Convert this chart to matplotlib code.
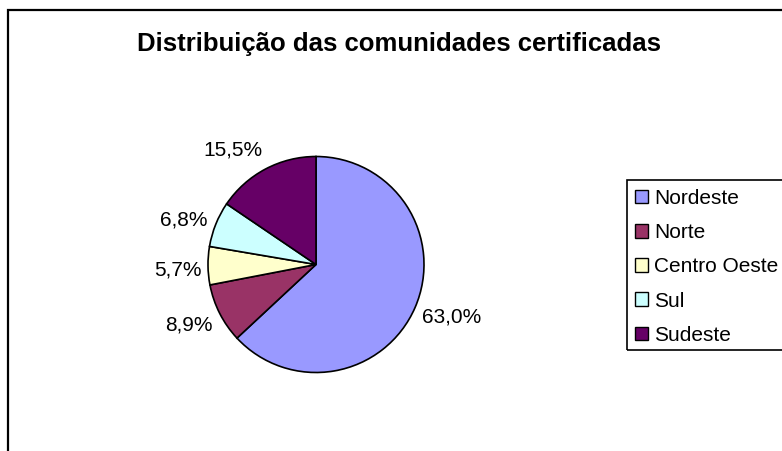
import matplotlib
matplotlib.use("Agg")
import matplotlib.pyplot as plt
from matplotlib.patches import Rectangle

regioes = ["Nordeste", "Norte", "Centro Oeste", "Sul", "Sudeste"]
percentuais = [63.0, 8.9, 5.7, 6.8, 15.5]
cores = ["#9999FF", "#993366", "#FFFFCC", "#CCFFFF", "#660066"]

# label offsets, in pie radii, tuned by eye
label_pos = [(1.26, -0.49), (-1.18, -0.56), (-1.28, -0.05), (-1.22, 0.41), (-0.77, 1.06)]

plt.rcParams["font.family"] = ["Liberation Sans", "DejaVu Sans"]

W, H = 782, 451
fig = plt.figure(figsize=(W / 100, H / 100), dpi=100)

# outer chart border (runs off right and bottom)
fig.patches.append(Rectangle((8 / W, -0.1), 1.2, 1 - 10 / H + 0.1, transform=fig.transFigure,
                             fill=False, edgecolor="black", linewidth=1.6))

cx, cy, r, half = 316, 264.5, 108, 150
ax = fig.add_axes([(cx - half) / W, (H - cy - half) / H, 2 * half / W, 2 * half / H])
lim = half / r

wedges, _ = ax.pie(percentuais, colors=cores, startangle=90, counterclock=False, radius=1,
                   wedgeprops=dict(edgecolor="black", linewidth=1.2))
ax.set_xlim(-lim, lim)
ax.set_ylim(-lim, lim)
ax.axis("off")

for v, (x, y) in zip(percentuais, label_pos):
    ax.text(x, y, f"{v:.1f}%".replace(".", ","), ha="center", va="center", fontsize=15)

fig.text(399 / W, 1 - 51 / H, "Distribuição das comunidades certificadas", ha="center",
         va="baseline", fontsize=18.5, fontweight="bold")

# legend box
fig.patches.append(Rectangle((627 / W, 1 - 350 / H), 0.5, 170 / H, transform=fig.transFigure,
                             fill=False, edgecolor="black", linewidth=1.2))
leg = fig.legend(wedges, regioes, loc="upper left", bbox_to_anchor=(635 / W, 1 - 189 / H),
                 frameon=False, fontsize=15, handlelength=0.63, handleheight=0.63,
                 handletextpad=0.3, labelspacing=0.73, borderaxespad=0, borderpad=0)
for h in leg.legend_handles:
    h.set_linewidth(1)
    h.set_edgecolor("black")

fig.savefig("out.png", dpi=100)
